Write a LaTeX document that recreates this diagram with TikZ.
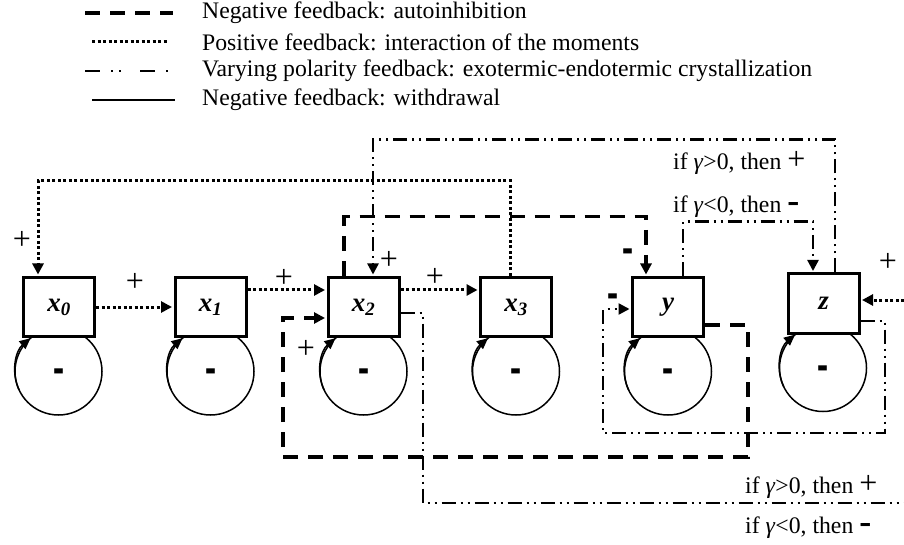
\documentclass[tikz,border=0pt]{standalone}
\usepackage{fontspec}
\setmainfont{Liberation Serif}
\usetikzlibrary{arrows.meta,calc}
\tikzset{
 vbox/.style={draw, line width=3pt, fill=white, minimum width=71pt, minimum height=59pt, inner sep=0pt, font=\fontsize{27}{27}\selectfont\bfseries\itshape},
 posfb/.style={line width=3pt, dash pattern=on 3pt off 2.5pt},
 negfb/.style={line width=3.2pt, dash pattern=on 15pt off 10pt},
 varfb/.style={line width=2.3pt, dash pattern=on 14pt off 5pt on 2pt off 5pt on 2pt off 5pt},
 loopc/.style={line width=1.5pt},
 arr/.style={-{Triangle[length=11pt,width=11pt]}, shorten >=1.5pt},
 looparr/.style={-{Triangle[length=11pt,width=10pt]}},
 plussign/.style={font=\fontsize{32}{32}\selectfont, inner sep=0pt},
 minussign/.style={font=\fontsize{30}{30}\selectfont\bfseries, inner sep=0pt},
 lbl/.style={font=\fontsize{23.7}{28}\selectfont, inner sep=0pt, anchor=west},
}
\newcommand{\bigplus}{{\fontsize{32}{32}\selectfont +}}
\newcommand{\bigminus}{{\fontsize{36}{36}\selectfont\bfseries -}}
\begin{document}
\begin{tikzpicture}[x=1pt,y=1pt]
\useasboundingbox (0,0) rectangle (904,544);
% legend
\draw[negfb] (85,531) -- (173,531);
\draw[posfb] (92,502) -- (167,502);
\draw[varfb, dash pattern=on 15pt off 11pt on 2pt off 6pt on 2pt off 19pt] (85,473) -- (170,473);
\draw[line width=2pt] (92,444) -- (175,444);
\node[lbl] (l1) at (202,531) {Negative feedback: autoinhibition};
\node[lbl] (l2) at (202,502) {Positive feedback: interaction of the moments};
\node[lbl] (l3) at (202,473) {Varying polarity feedback: exotermic-endotermic crystallization};
\node[lbl] (l4) at (202,444) {Negative feedback: withdrawal};
% self loops (circles)
\coordinate (cx0) at (58.5,172.5);
\coordinate (cx1) at (210.5,172.5);
\coordinate (cx2) at (363.5,172.5);
\coordinate (cx3) at (516,172.5);
\coordinate (cy) at (668,172.5);
\coordinate (cz) at (823,176);
\foreach \c in {cx0,cx1,cx2,cx3,cy,cz}{
  \draw[loopc] (\c) circle[radius=43.5];
}
% boxes
\node[vbox] (x0) at (59,237) {x\textsubscript{0}};
\node[vbox] (x1) at (210.5,237) {x\textsubscript{1}};
\node[vbox] (x2) at (363.5,237) {x\textsubscript{2}};
\node[vbox] (x3) at (516,237) {x\textsubscript{3}};
\node[vbox] (y) at (668,237) {y};
\node[vbox] (z) at (823.5,240.5) {z};
% loop arrowheads and minus signs
\foreach \c in {cx0,cx1,cx2,cx3,cy,cz}{
  \draw[loopc,looparr] ($(\c)+(205:43.5)$) arc[start angle=205,end angle=130,radius=43.5];
  \node[minussign] at ($(\c)+(0,-6)$) {\scalebox{1.1}[2]{-}};
}
% positive feedback (dotted)
\draw[posfb,arr] (x0.east) -- (x1.west);
\draw[posfb,arr] ($(x1.east)+(0,17)$) -- ($(x2.west)+(0,17)$);
\draw[posfb,arr] ($(x2.east)+(0,17)$) -- ($(x3.west)+(0,17)$);
\draw[posfb,arr] ($(x3.north)+(-6,0)$) |- ($(x0.north)+(-21,95)$) -- ($(x0.north)+(-21,0)$);
\coordinate (zin) at (904,244);
\draw[posfb,arr] (zin) -- (z.east |- zin);
% negative feedback (dashed)
\draw[negfb,arr] ($(x2.north)+(-19.5,0)$) |- ($(y.north)+(-22,59.5)$) -- ($(y.north)+(-22,0)$);
\draw[negfb,arr] ($(y.east)+(0,-18)$) -- (748,219) -- (748,87) -- (283,87) -- (283,226) -- ($(x2.west)+(0,-11)$);
% varying polarity (dash-dot-dot)
\draw[varfb,arr] ($(z.north)+(11.5,0)$) |- ($(x2.north)+(9.5,136.5)$) -- ($(x2.north)+(9.5,0)$);
\draw[varfb,arr] ($(y.north)+(15,0)$) |- ($(z.north)+(-10.5,51)$) -- ($(z.north)+(-10.5,0)$);
\draw[varfb,arr] ($(z.east)+(0,-17.5)$) -- (885,223) -- (885,111) -- (603,111) -- (603,235) -- ($(y.west)+(0,-2)$);
\coordinate (x2out) at (904,41);
\draw[varfb] ($(x2.east)+(0,-6)$) -- (423,231) -- (423,41) -- (x2out);
% signs
\node[plussign] (s1) at (135,262) {+};
\node[plussign] (s2) at (284,266) {+};
\node[plussign] (s3) at (435,267) {+};
\node[plussign] (s4) at (22,304) {+};
\node[plussign] (s5) at (888,282) {+};
\node[plussign] (s6) at (389,284) {+};
\node[plussign] (s7) at (306,195) {+};
\node[minussign] (m1) at (628,287) {\scalebox{1.1}[2]{-}};
\node[minussign] (m2) at (613,242) {\scalebox{1.1}[2]{-}};
% conditional labels
\node[lbl] (c1) at (673,381) {if \textit{γ}>0, then \bigplus};
\node[lbl] (c2) at (673,337) {if \textit{γ}<0, then \bigminus};
\node[lbl] (c3) at (745,57) {if \textit{γ}>0, then \bigplus};
\node[lbl] (c4) at (745,16) {if \textit{γ}<0, then \bigminus};
\end{tikzpicture}
\end{document}
